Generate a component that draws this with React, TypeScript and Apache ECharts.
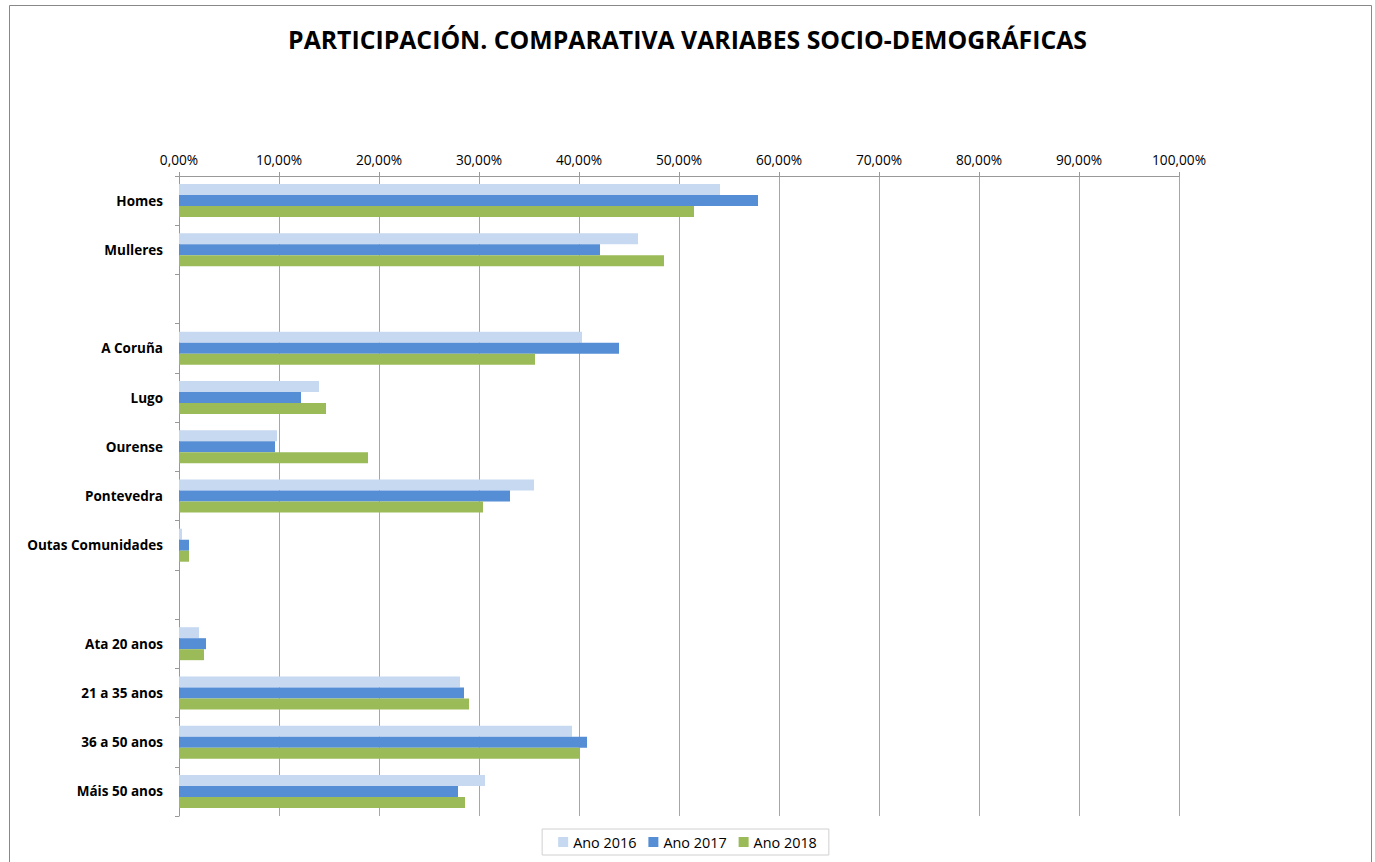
import React, { useEffect, useRef } from "react";
import * as echarts from "echarts";

const categories = [
  "Homes",
  "Mulleres",
  " ",
  "A Coruña",
  "Lugo",
  "Ourense",
  "Pontevedra",
  "Outas Comunidades",
  "  ",
  "Ata 20 anos",
  "21 a 35 anos",
  "36 a 50 anos",
  "Máis 50 anos",
];

const seriesNames = ["Ano 2016", "Ano 2017", "Ano 2018"];

const values2016 = [54.1, 45.9, null, 40.3, 14.0, 9.8, 35.5, 0.3, null, 2.0, 28.1, 39.3, 30.6];
const values2017 = [57.9, 42.1, null, 44.0, 12.2, 9.6, 33.1, 1.0, null, 2.7, 28.5, 40.8, 27.9];
const values2018 = [51.5, 48.5, null, 35.6, 14.7, 18.9, 30.4, 1.0, null, 2.5, 29.0, 40.1, 28.6];

const colors = ["#c6d9f1", "#558ed5", "#9bbb59"];

const titleText = "PARTICIPACIÓN. COMPARATIVA VARIABES SOCIO-DEMOGRÁFICAS";

const FONT = "'Open Sans', Lato, sans-serif";

export default function App() {
  const ref = useRef<HTMLDivElement>(null);

  useEffect(() => {
    if (!ref.current) return;
    const chart = echarts.init(ref.current, null, { renderer: "svg" });
    const allValues = [values2016, values2017, values2018];
    chart.setOption({
      animation: false,
      backgroundColor: "#ffffff",
      textStyle: { fontFamily: FONT },
      title: {
        text: titleText,
        left: "center",
        top: 21,
        textStyle: {
          fontFamily: FONT,
          fontSize: 24.8,
          fontWeight: "bold",
          color: "#000000",
        },
      },
      graphic: [
        {
          type: "rect",
          shape: { x: 9.5, y: 5.5, width: 1362, height: 900 },
          style: { fill: "none", stroke: "#888888", lineWidth: 1 },
          silent: true,
          z: -1,
        },
      ],
      legend: {
        bottom: 7,
        left: "center",
        itemWidth: 10,
        itemHeight: 10,
        itemGap: 12,
        itemStyle: { borderWidth: 0 },
        borderColor: "#d0d0d0",
        borderWidth: 1,
        padding: [6, 12, 6, 16],
        textStyle: { fontSize: 14.4, color: "#000000", fontFamily: FONT },
        data: seriesNames.map((n) => ({ name: n, icon: "rect" })),
      },
      grid: {
        left: 179,
        right: 196,
        top: 176,
        bottom: 46,
        containLabel: false,
      },
      xAxis: {
        type: "value",
        position: "top",
        min: 0,
        max: 100,
        interval: 10,
        axisLine: { show: true, lineStyle: { color: "#999999", width: 1 } },
        axisTick: { show: true, length: 4, lineStyle: { color: "#999999" } },
        axisLabel: {
          fontSize: 13.7,
          color: "#000000",
          margin: 10,
          fontFamily: FONT,
          formatter: (v: number) => v.toFixed(2).replace(".", ",") + "%",
        },
        splitLine: { show: true, lineStyle: { color: "#a6a6a6", width: 1 } },
      },
      yAxis: {
        type: "category",
        inverse: true,
        data: categories,
        axisLine: { show: true, lineStyle: { color: "#999999", width: 1 } },
        axisTick: { show: true, length: 4, lineStyle: { color: "#999999" } },
        axisLabel: {
          fontSize: 13.5,
          fontWeight: "bold",
          color: "#000000",
          fontFamily: FONT,
          margin: 16,
        },
      },
      series: seriesNames.map((name, i) => ({
        name,
        type: "bar",
        data: allValues[i],
        barGap: "0%",
        barCategoryGap: "33%",
        itemStyle: { color: colors[i] },
      })),
    });
    return () => chart.dispose();
  }, []);

  return (
    <div
      ref={ref}
      style={{ position: "fixed", left: 0, top: 0, width: 1375, height: 862 }}
    />
  );
}
